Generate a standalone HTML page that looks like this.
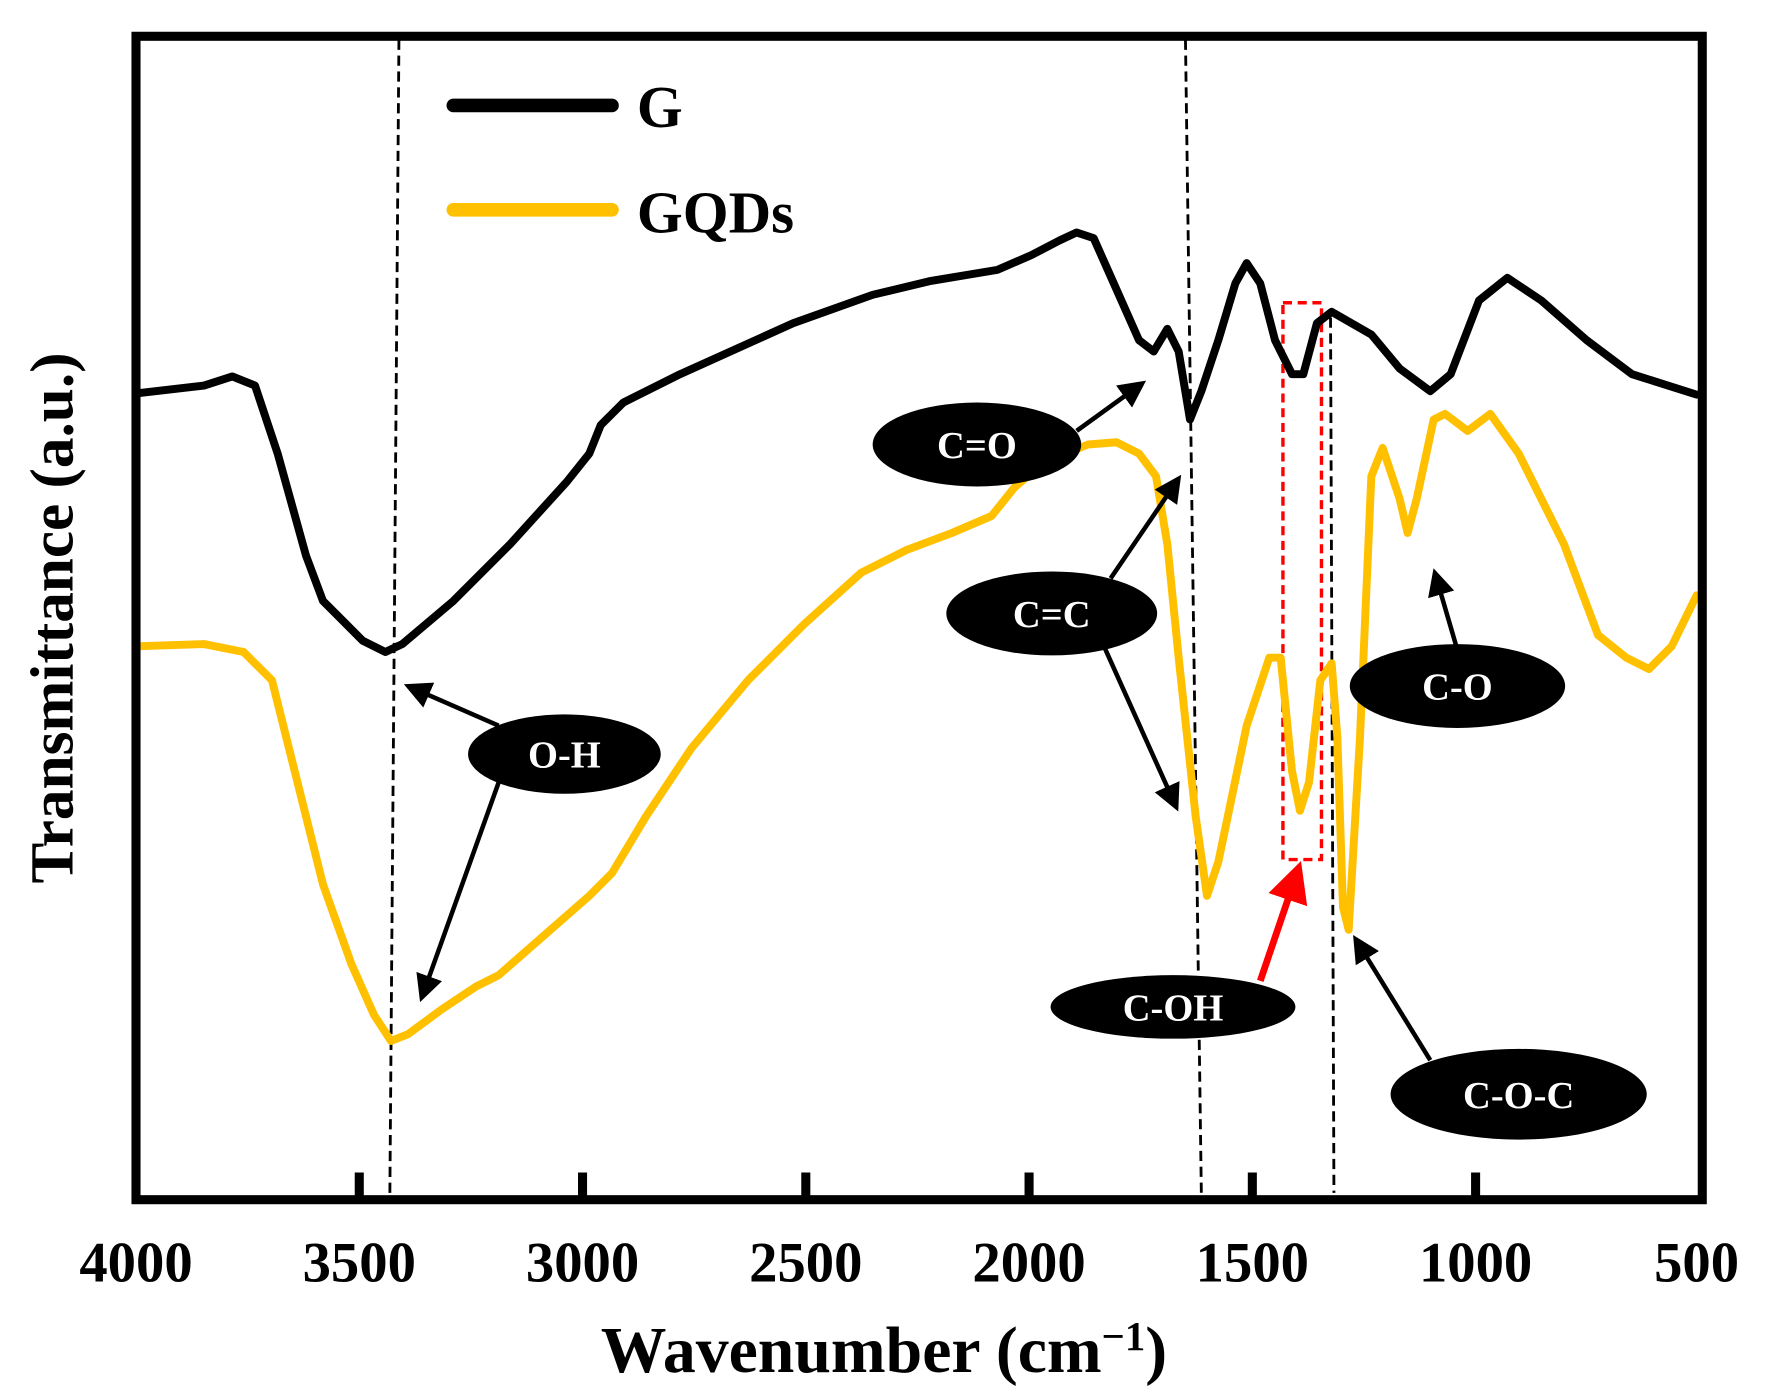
<!DOCTYPE html>
<html><head><style>html,body{margin:0;padding:0;background:#fff}svg{display:block}</style></head><body>
<svg width="1768" height="1397" viewBox="0 0 1560 1232" preserveAspectRatio="none" xmlns="http://www.w3.org/2000/svg" font-family="'Liberation Serif',serif" font-weight="bold">
<defs>
<marker id="ah" markerWidth="6" markerHeight="6" refX="5" refY="3" orient="auto" markerUnits="strokeWidth"><path d="M0,0 L6,3 L0,6 z" fill="#000"/></marker>
<marker id="ahr" markerWidth="6" markerHeight="6" refX="5" refY="3" orient="auto" markerUnits="strokeWidth"><path d="M0,0 L6,3 L0,6 z" fill="#f00"/></marker>
</defs>
<g stroke="#000" stroke-width="2.5" stroke-dasharray="9,5" fill="none">
<line x1="352" y1="35" x2="344" y2="1052"/>
<line x1="1046" y1="35" x2="1060" y2="1052"/>
<line x1="1174" y1="280" x2="1177" y2="1052"/>
</g>
<rect x="1132" y="267" width="34" height="491" fill="none" stroke="#f00" stroke-width="3" stroke-dasharray="8,5"/>
<path fill="none" stroke="#000" stroke-width="7" stroke-linejoin="round" stroke-linecap="round" d="M120,347 L180,340 L205,332 L225,340 L245,400 L270,490 L285,530 L300,545 L320,565 L340,575 L355,568 L400,530 L450,480 L500,425 L520,400 L530,375 L550,355 L600,330 L700,285 L770,260 L820,248 L880,238 L910,225 L935,212 L950,205 L965,210 L985,255 L1005,300 L1018,310 L1030,290 L1040,310 L1050,370 L1060,345 L1075,300 L1090,250 L1100,232 L1112,250 L1125,300 L1140,330 L1150,330 L1162,285 L1175,275 L1210,295 L1235,325 L1262,345 L1280,330 L1305,265 L1330,245 L1360,265 L1400,300 L1440,330 L1497,348"/>
<path fill="none" stroke="#FFC000" stroke-width="7" stroke-linejoin="round" stroke-linecap="round" d="M120,570 L180,568 L215,575 L240,600 L260,680 L285,780 L310,850 L330,895 L345,918 L360,912 L390,890 L420,870 L440,860 L480,825 L520,790 L540,770 L570,720 L610,660 L660,600 L710,550 L760,505 L800,485 L840,470 L875,455 L895,430 L920,408 L960,392 L985,390 L1005,400 L1020,420 L1030,480 L1040,580 L1055,720 L1065,790 L1075,760 L1100,640 L1120,580 L1130,580 L1140,680 L1147,715 L1155,690 L1165,600 L1175,585 L1180,650 L1185,800 L1190,820 L1200,650 L1210,420 L1220,395 L1235,440 L1242,470 L1250,440 L1265,370 L1275,365 L1295,380 L1315,365 L1340,400 L1380,480 L1410,560 L1435,580 L1455,590 L1475,570 L1497,525"/>
<rect x="120" y="32" width="1382" height="1026" fill="none" stroke="#000" stroke-width="8"/>
<g stroke="#000" stroke-width="8">
<line x1="317" y1="1058" x2="317" y2="1034"/><line x1="514" y1="1058" x2="514" y2="1034"/><line x1="711" y1="1058" x2="711" y2="1034"/><line x1="908" y1="1058" x2="908" y2="1034"/><line x1="1105" y1="1058" x2="1105" y2="1034"/><line x1="1302" y1="1058" x2="1302" y2="1034"/>
</g>
<line x1="400" y1="93" x2="540" y2="93" stroke="#000" stroke-width="12" stroke-linecap="round"/>
<line x1="400" y1="185" x2="540" y2="185" stroke="#FFC000" stroke-width="12" stroke-linecap="round"/>
<text x="562" y="112" font-size="52">G</text>
<text x="562" y="205" font-size="52">GQDs</text>
<g stroke="#000" stroke-width="4" marker-end="url(#ah)">
<line x1="950" y1="380" x2="1008" y2="338"/>
<line x1="980" y1="510" x2="1040" y2="422"/>
<line x1="975" y1="572" x2="1038" y2="712"/>
<line x1="440" y1="640" x2="360" y2="605"/>
<line x1="440" y1="690" x2="372" y2="880"/>
<line x1="1285" y1="570" x2="1266" y2="505"/>
<line x1="1262" y1="935" x2="1196" y2="828"/>
</g>
<line x1="1112" y1="865" x2="1146" y2="765" stroke="#f00" stroke-width="6" marker-end="url(#ahr)"/>
<g fill="#000">
<ellipse cx="862" cy="392" rx="92" ry="37"/>
<ellipse cx="928" cy="541" rx="93" ry="37"/>
<ellipse cx="498" cy="665" rx="85" ry="35"/>
<ellipse cx="1286" cy="605" rx="95" ry="37"/>
<ellipse cx="1035" cy="888" rx="108" ry="28"/>
<ellipse cx="1340" cy="965" rx="113" ry="40"/>
</g>
<g fill="#fff" font-size="34" text-anchor="middle">
<text x="862" y="404">C=O</text>
<text x="928" y="553">C=C</text>
<text x="498" y="677">O-H</text>
<text x="1286" y="617">C-O</text>
<text x="1035" y="900">C-OH</text>
<text x="1340" y="977">C-O-C</text>
</g>
<g font-size="50" text-anchor="middle">
<text x="120" y="1130">4000</text><text x="317" y="1130">3500</text><text x="514" y="1130">3000</text><text x="711" y="1130">2500</text><text x="908" y="1130">2000</text><text x="1105" y="1130">1500</text><text x="1302" y="1130">1000</text><text x="1497" y="1130">500</text>
</g>
<text x="780" y="1210" font-size="58" text-anchor="middle">Wavenumber (cm<tspan baseline-shift="super" font-size="36">−1</tspan>)</text>
<text transform="translate(64,545) rotate(-90)" font-size="54" text-anchor="middle">Transmittance (a.u.)</text>
</svg>
</body></html>
